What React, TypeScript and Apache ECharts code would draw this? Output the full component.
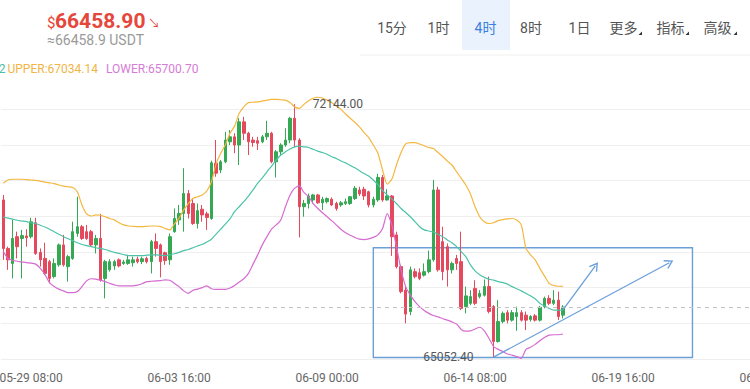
import React, { useEffect, useRef } from 'react';
import * as echarts from 'echarts';

// ---- data (4h candles starting 05-28 08:00) ----
const START_UTC = Date.UTC(2024, 4, 28, 8, 0);
const STEP_HOURS = 4;
const CATEGORY_COUNT = 167;

const opens = [
  69460, 68100, 67680, 68430, 68380, 68450, 68430, 68820, 67990, 67820,
  67730, 67310, 67640, 68200, 67590, 67820, 68520, 68710, 68570, 68570,
  68200, 68380, 67260, 67500, 67610, 67780, 67680, 67680, 67700, 67800,
  67730, 67820, 67730, 68290, 68200, 67980, 67780, 68570, 68900, 69080,
  69640, 69360, 68800, 69200, 69070, 68940, 70490, 70300, 70530, 71090,
  71230, 71000, 71650, 71330, 71140, 71120, 71090, 71230, 71330, 70530,
  70810, 71000, 71140, 71750, 71140, 69270, 69360, 69460, 69600, 69380,
  69410, 69480, 69360, 69320, 69360, 69360, 69500, 69740, 69760, 69690,
  69320, 69460, 70090, 69460, 69570, 68480, 67590, 66930, 66330, 67450,
  67420, 67350, 67450, 67780, 69740, 68290, 68150, 67500, 67820, 67730,
  66470, 66560, 66980, 66750, 66790, 67030, 66470, 65490, 66050, 66300,
  66090, 66190, 66300, 66230, 66110, 66210, 66090, 66470, 66700, 66560,
  66650, 66230,
];
const closes = [
  68100, 67780, 68380, 68150, 68460, 68400, 68850, 67960, 67780, 67400,
  67260, 67680, 68200, 67640, 67870, 68570, 68710, 68380, 68380, 68200,
  68380, 67210, 67730, 67730, 67730, 67610, 67720, 67780, 67780, 67730,
  67810, 67730, 68290, 68100, 67730, 67760, 68430, 68940, 69080, 69640,
  69080, 68800, 69160, 69040, 68970, 70500, 70210, 70530, 71140, 71230,
  71000, 71650, 71330, 71090, 71070, 71050, 71230, 71330, 70530, 70810,
  71000, 71140, 71750, 71140, 69270, 69360, 69570, 69600, 69380, 69480,
  69500, 69320, 69220, 69380, 69410, 69550, 69790, 69630, 69570, 69320,
  69480, 70090, 69460, 69570, 68430, 67590, 66890, 66260, 67500, 67310,
  67260, 67450, 67780, 69740, 67500, 67450, 67500, 67680, 67680, 66420,
  66770, 66750, 66560, 66840, 67030, 66330, 65490, 66050, 66280, 66090,
  66300, 66300, 66090, 66090, 66190, 66090, 66450, 66700, 66560, 66650,
  66190, 66458.9,
];
const lows = [
  67780, 67500, 67260, 67820, 67260, 68150, 68380, 67920, 67590, 67350,
  67120, 67260, 67590, 67590, 67170, 67780, 68430, 68340, 68340, 68150,
  67960, 67170, 66700, 67450, 67500, 67570, 67640, 67640, 67590, 67680,
  67660, 67680, 67400, 67870, 67290, 67640, 67640, 68540, 68760, 68570,
  68940, 68760, 68660, 68850, 68620, 68900, 70110, 70210, 70490, 71000,
  70770, 70440, 71140, 70720, 70950, 70860, 71050, 71140, 70490, 70090,
  70720, 70950, 71050, 70940, 68410, 68990, 69220, 69360, 69350, 69180,
  69360, 69290, 69160, 69270, 69320, 69320, 69460, 69570, 69460, 69250,
  69250, 69410, 69410, 69440, 67890, 67540, 66840, 66000, 66230, 67260,
  67210, 67310, 67400, 67730, 67450, 67210, 67030, 67400, 67500, 66370,
  66280, 66510, 66510, 66700, 66750, 66280, 65052.4, 65460, 66000, 66000,
  66050, 65790, 66050, 65810, 66050, 66050, 66050, 66420, 66510, 66510,
  66090, 66140,
];
const highs = [
  69600, 68150, 68900, 68570, 68620, 68640, 68960, 68960, 68100, 68260,
  67780, 67820, 68240, 68480, 67920, 68850, 69550, 68760, 68760, 68620,
  68480, 69070, 67780, 67800, 67780, 67820, 67780, 67920, 67870, 67870,
  67870, 67870, 68340, 68520, 68240, 68010, 68520, 69220, 69320, 70350,
  69740, 69500, 69360, 69320, 69130, 70560, 71140, 70580, 71370, 71420,
  71330, 71750, 71790, 71370, 71230, 71230, 71280, 71680, 71370, 70860,
  71050, 71470, 71790, 72144, 71190, 69460, 69640, 69630, 69630, 69550,
  69530, 69530, 69410, 69430, 69500, 69570, 69850, 69830, 69830, 69720,
  69550, 70190, 70160, 69760, 69600, 68570, 67640, 67030, 67590, 67540,
  67540, 67680, 68040, 70020, 69830, 68710, 68240, 67730, 67920, 68570,
  67030, 66930, 67210, 66930, 67230, 67310, 66510, 66650, 66330, 66370,
  66370, 66470, 66370, 66330, 66230, 66260, 66490, 66750, 66790, 66930,
  66890, 66510,
];

const bollUpper = [
  69930, 70020, 70040, 70040, 70040, 70030, 70020, 70010, 69990, 69960,
  69940, 69920, 69880, 69850, 69830, 69810, 69690, 69320, 69070, 69010,
  69040, 69030, 68990, 68940, 68900, 68820, 68760, 68730, 68720, 68710,
  68710, 68720, 68730, 68730, 68710, 68660, 68620, 68790, 68950, 69180,
  69360, 69500, 69550, 69600, 69710, 69970, 70470, 70770, 71000, 71330,
  71530, 71890, 72070, 72190, 72200, 72210, 72230, 72260, 72280, 72280,
  72270, 72260, 72190, 72070, 72030, 72140, 72240, 72310, 72340, 72320,
  72260, 72190, 72090, 72000, 71870, 71750, 71640, 71510, 71350, 71210,
  71000, 70770, 70300, 69900, 70040, 70440, 70790, 71030, 71070, 71070,
  71030, 70980, 70930, 70900, 70790, 70680, 70550, 70440, 70250, 70070,
  69880, 69630, 69270, 68990, 68850, 68800, 68820, 68880, 68910, 68930,
  68940, 68900, 68760, 68100, 67920, 67780, 67540, 67330, 67120, 67060,
  67040, 67034.14,
];
const bollMid = [
  68980, 68950, 68920, 68890, 68870, 68850, 68820, 68800, 68750, 68700,
  68640, 68570, 68500, 68430, 68370, 68320, 68260, 68210, 68180, 68150,
  68120, 68100, 68070, 68030, 67990, 67960, 67930, 67900, 67900, 67900,
  67900, 67910, 67920, 67920, 67910, 67900, 67920, 67950, 67990, 68040,
  68070, 68120, 68170, 68210, 68280, 68360, 68500, 68640, 68780, 68930,
  69130, 69270, 69410, 69570, 69740, 69930, 70080, 70250, 70410, 70580,
  70720, 70810, 70890, 70950, 70970, 70950, 70930, 70880, 70830, 70790,
  70740, 70670, 70620, 70550, 70500, 70430, 70360, 70280, 70200, 70130,
  70020, 69880, 69720, 69600, 69490, 69360, 69220, 69110, 68990, 68850,
  68710, 68620, 68590, 68560, 68500, 68430, 68340, 68260, 68150, 68010,
  67870, 67640, 67470, 67360, 67290, 67240, 67210, 67170, 67140, 67100,
  67030, 66970, 66910, 66840, 66770, 66690, 66560, 66490, 66420, 66370,
  66370, 66367.42,
];
const bollLower = [
  68010, 67820, 67770, 67740, 67720, 67700, 67690, 67660, 67540, 67370,
  67140, 67030, 66960, 66910, 66860, 66860, 66890, 67030, 67190, 67250,
  67240, 67210, 67170, 67120, 67080, 67050, 67050, 67050, 67050, 67070,
  67110, 67170, 67180, 67190, 67200, 67220, 67210, 67120, 67030, 66910,
  66840, 66930, 66960, 67000, 67050, 66970, 66950, 66950, 66950, 66990,
  67060, 67160, 67250, 67400, 67660, 67920, 68200, 68430, 68640, 68760,
  68900, 69270, 69600, 69790, 69860, 69670, 69550, 69360, 69220, 69100,
  68990, 68880, 68760, 68640, 68540, 68470, 68410, 68360, 68350, 68370,
  68410, 68480, 68660, 69080, 68760, 68150, 67500, 67030, 66790, 66610,
  66470, 66360, 66280, 66220, 66180, 66130, 66090, 66040, 65980, 65830,
  65780, 65790, 65840, 65890, 65790, 65580, 65350, 65270, 65210, 65140,
  65110, 65070, 65020, 65270, 65330, 65410, 65510, 65600, 65670, 65680,
  65680, 65700.7,
];

const lastPrice = 66458.9;
const highPoint = { index: 63, value: 72144, label: '72144.00' };
const lowPoint = { index: 106, value: 65052.4, label: '65052.40' };
// annotation box: [startIndex, topPrice], [endIndex, bottomPrice]
const boxFrom = [80, 68120];
const boxTo = [149, 65040];
// arrows: [fromIndex, fromPrice, toIndex, toPrice]
const arrowShort = [121, 66380, 128, 67610];
const arrowLong = [106, 65052.4, 144, 67700];

const legendMid = 'MID:66367.42';
const legendUpper = 'UPPER:67034.14';
const legendLower = 'LOWER:65700.70';
const tabs = ['15分', '1时', '4时', '8时', '1日', '更多', '指标', '高级'];

const pad = (n: number) => String(n).padStart(2, '0');
const categories = Array.from({ length: CATEGORY_COUNT }, (_, i) => {
  const d = new Date(START_UTC + i * STEP_HOURS * 3600 * 1000);
  return `${pad(d.getUTCMonth() + 1)}-${pad(d.getUTCDate())} ${pad(d.getUTCHours())}:${pad(d.getUTCMinutes())}`;
});

const UP = '#35a853';
const DOWN = '#e5495d';
const BLUE = '#6a9fd8';
const FONT = 'Roboto, "Noto Sans CJK SC", sans-serif';
const CHEVRON = 'path://M5,0 L10,8.2 L8.9,9 L5,2.6 L1.1,9 L0,8.2 Z';

export default function App() {
  const ref = useRef<HTMLDivElement>(null);
  useEffect(() => {
    document.body.style.margin = '0';
    if (!ref.current) return;
    const chart = echarts.init(ref.current, undefined, { renderer: 'svg' });
    const candles = opens.map((o, i) => [o, closes[i], lows[i], highs[i]]);
    const tabX = [392, 438.5, 485.5, 531, 579.5, 623.5, 670.5, 717.5];
    const tabGraphics: any[] = tabs.map((t, i) => ({
      type: 'text',
      x: tabX[i],
      y: 28,
      style: {
        text: t,
        fill: i === 2 ? '#3d7fe0' : '#555',
        font: `14px ${FONT}`,
        textAlign: 'center',
        textVerticalAlign: 'middle',
      },
      z: 10,
    }));
    [642, 689, 737].forEach((x) => {
      tabGraphics.push({
        type: 'polygon',
        shape: { points: [[x - 3.5, 35], [x, 35], [x, 31.5]] },
        style: { fill: '#333' },
        z: 10,
      });
    });

    chart.setOption({
      animation: false,
      backgroundColor: '#fff',
      grid: { left: 1, right: -23.4, top: 73.7, bottom: 30, containLabel: false, outerBoundsMode: 'none' },
      xAxis: {
        type: 'category',
        data: categories,
        boundaryGap: true,
        axisLine: { show: false },
        axisTick: { show: false },
        splitLine: { show: false },
        axisLabel: {
          interval: (index: number) => (index - 6) % 32 === 0,
          color: '#666',
          fontSize: 12,
          fontFamily: FONT,
          margin: 13,
          hideOverlap: false,
        },
      },
      yAxis: {
        type: 'value',
        min: 65000,
        max: 73000,
        interval: 1000,
        axisLine: { show: false },
        axisTick: { show: false },
        axisLabel: { show: false },
        splitLine: {
          show: true,
          lineStyle: {
            color: ['#efefef', '#efefef', '#efefef', '#efefef', '#efefef', '#efefef', '#efefef', '#efefef', 'rgba(0,0,0,0)'],
            width: 1,
          },
        },
      },
      graphic: [
        { type: 'rect', shape: { x: 462, y: 0, width: 48, height: 50 }, style: { fill: '#e9f2fd' }, z: 5 },
        { type: 'line', shape: { x1: 360, y1: 55, x2: 750, y2: 55 }, style: { stroke: '#f0f0f0', lineWidth: 1 }, z: 5 },
        { type: 'text', x: 47, y: 22.5, style: { text: '$', fill: '#e5473b', font: `15px ${FONT}`, lineHeight: 15, textVerticalAlign: 'middle' }, z: 10 },
        { type: 'text', x: 55, y: 20.5, style: { text: '66458.90', fill: '#e5473b', font: `bold 21px ${FONT}`, lineHeight: 21, textVerticalAlign: 'middle' }, z: 10 },
        { type: 'text', x: 148, y: 24, style: { text: '↘', fill: '#e5473b', font: `12px ${FONT}`, lineHeight: 12, textVerticalAlign: 'middle' }, z: 10 },
        { type: 'text', x: 47, y: 40, style: { text: '≈66458.9 USDT', fill: '#9a9a9a', font: `14px ${FONT}`, lineHeight: 14, textVerticalAlign: 'middle' }, z: 10 },
        { type: 'text', x: 5.5, y: 68.5, style: { text: legendMid, fill: '#49bfa6', font: `12px ${FONT}`, textAlign: 'right', textVerticalAlign: 'middle' }, z: 10 },
        { type: 'text', x: 7.5, y: 68.5, style: { text: legendUpper, fill: '#f0b545', font: `12px ${FONT}`, textVerticalAlign: 'middle' }, z: 10 },
        { type: 'text', x: 106, y: 68.5, style: { text: legendLower, fill: '#d67bd6', font: `12px ${FONT}`, textVerticalAlign: 'middle' }, z: 10 },
        ...tabGraphics,
      ],
      series: [
        {
          type: 'candlestick',
          data: candles,
          barWidth: 3,
          itemStyle: { color: UP, color0: DOWN, borderColor: UP, borderColor0: DOWN, borderWidth: 1 },
          markLine: {
            silent: true,
            symbol: ['none', 'none'],
            label: { show: false },
            data: [
              { yAxis: lastPrice, lineStyle: { type: [4, 4], color: '#c4c4c4', width: 1 } },
              [
                { coord: [categories[arrowShort[0]], arrowShort[1]], lineStyle: { type: 'solid', color: BLUE, width: 1.3 } },
                { coord: [categories[arrowShort[2]], arrowShort[3]], symbol: CHEVRON, symbolSize: [10, 9] },
              ],
              [
                { coord: [categories[arrowLong[0]], arrowLong[1]], lineStyle: { type: 'solid', color: BLUE, width: 1.3 } },
                { coord: [categories[arrowLong[2]], arrowLong[3]], symbol: CHEVRON, symbolSize: [10, 9] },
              ],
            ],
          },
          markArea: {
            silent: true,
            itemStyle: { color: 'rgba(0,0,0,0)', borderColor: BLUE, borderWidth: 1.4 },
            data: [[
              { coord: [categories[boxFrom[0]], boxFrom[1]] },
              { coord: [categories[boxTo[0]], boxTo[1]] },
            ]],
          },
          markPoint: {
            silent: true,
            symbol: 'circle',
            symbolSize: 0,
            data: [
              {
                coord: [categories[highPoint.index], highPoint.value],
                label: { show: true, formatter: highPoint.label, position: 'right', distance: 18, color: '#555', fontSize: 12, fontFamily: FONT },
              },
              {
                coord: [categories[lowPoint.index], lowPoint.value],
                label: { show: true, formatter: lowPoint.label, position: 'left', distance: 20, color: '#555', fontSize: 12, fontFamily: FONT },
              },
            ],
          },
        },
        {
          type: 'line',
          data: bollUpper,
          symbol: 'none',
          smooth: 0.2,
          lineStyle: { color: '#f4b73f', width: 1.2 },
          itemStyle: { color: '#f4b73f' },
        },
        {
          type: 'line',
          data: bollMid,
          symbol: 'none',
          smooth: 0.2,
          lineStyle: { color: '#4cc3a9', width: 1.2 },
          itemStyle: { color: '#4cc3a9' },
        },
        {
          type: 'line',
          data: bollLower,
          symbol: 'none',
          smooth: 0.2,
          lineStyle: { color: '#d66bd1', width: 1.2 },
          itemStyle: { color: '#d66bd1' },
        },
      ],
    });
    return () => chart.dispose();
  }, []);
  return <div ref={ref} style={{ width: 750, height: 389 }} />;
}
